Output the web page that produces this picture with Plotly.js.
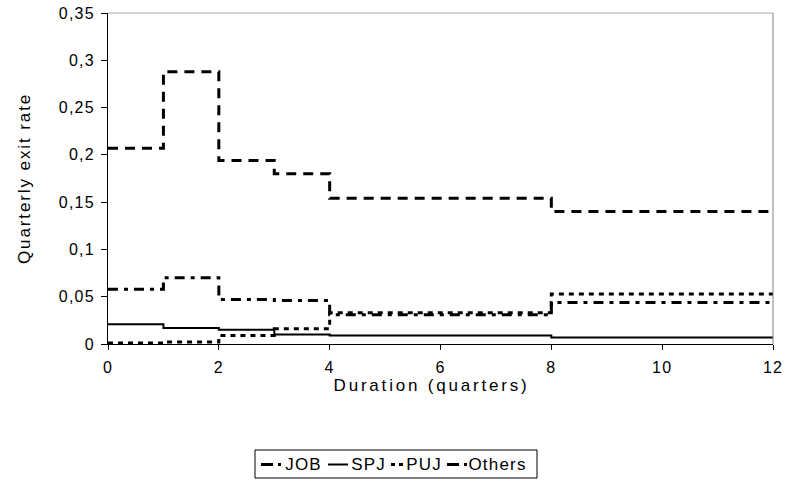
<!DOCTYPE html>
<html>
<head>
<meta charset="utf-8">
<script src="https://cdn.plot.ly/plotly-3.0.1.min.js"></script>
<style>
html,body{margin:0;padding:0;background:#fff;}
#chart{width:792px;height:481px;}
#chart text.xtitle{letter-spacing:2.8px;transform:translate(-9px,0px);}
#chart text.ytitle{letter-spacing:1.9px;}
#chart g.xtick text, #chart g.ytick text{letter-spacing:1.2px;}
#chart text.annotation-text{letter-spacing:1.2px;}
</style>
</head>
<body>
<div id="chart"></div>
<script>
// Duration break points (quarters); each value holds from its break point to the next
const duration = [0, 1, 2, 3, 4, 8, 12];
const jobRate    = [0.207, 0.288, 0.194, 0.180, 0.154, 0.140];
const spjRate    = [0.021, 0.017, 0.015, 0.010, 0.009, 0.007];
const pujRate    = [0.001, 0.002, 0.009, 0.016, 0.033, 0.053];
const othersRate = [0.058, 0.070, 0.047, 0.046, 0.031, 0.044];
const seriesNames = ['JOB', 'SPJ', 'PUJ', 'Others'];
const yTicks = [0, 0.05, 0.1, 0.15, 0.2, 0.25, 0.3, 0.35];
const xTicks = [0, 2, 4, 6, 8, 10, 12];

function stepY(vals) { return vals.concat([vals[vals.length - 1]]); }

const styles = [
  {width: 3, dash: '10px,7px',          legendDash: '12px,5px,4px,30px'},
  {width: 2, dash: 'solid',             legendDash: 'solid'},
  {width: 3, dash: '5px,5px',           legendDash: '4px,4px'},
  {width: 3, dash: '10px,6px,4px,6px',  legendDash: '12px,5px,4px,30px'}
];
const allRates = [jobRate, spjRate, pujRate, othersRate];

const traces = allRates.map((r, i) => ({
  x: duration,
  y: stepY(r),
  name: seriesNames[i],
  type: 'scatter',
  mode: 'lines',
  showlegend: false,
  line: {shape: 'hv', color: '#000', width: styles[i].width, dash: styles[i].dash}
}));

function F(s) { return {family: 'Liberation Sans, Arial, sans-serif', size: s, color: '#000'}; }

// plot-area geometry (pixels) used to place the hand-made legend box
const W = 792, H = 481, ML = 108, MR = 19, MT = 13, MB = 137;
const PW = W - ML - MR, PH = H - MT - MB;
const px = v => (v - ML) / PW;
const py = v => (H - MB - v) / PH;

// legend layout: [sample start, sample end, text start]
const legendSlots = [[261, 281, 286], [328, 348, 352], [391, 403, 407], [447, 467, 471]];
const legendTop = 450, legendBottom = 478, legendMid = 464.5;

const shapes = [
  {type: 'line', xref: 'paper', yref: 'paper', x0: 0, x1: 1, y0: 1, y1: 1, line: {color: '#a6a6a6', width: 1}},
  {type: 'line', xref: 'paper', yref: 'paper', x0: 1, x1: 1, y0: 0, y1: 1, line: {color: '#808080', width: 1}},
  {type: 'rect', xref: 'paper', yref: 'paper', x0: px(255), x1: px(537), y0: py(legendBottom), y1: py(legendTop),
   line: {color: '#000', width: 1}, fillcolor: '#fff', layer: 'above'}
];
const annotations = [];
seriesNames.forEach((n, i) => {
  const s = legendSlots[i];
  shapes.push({type: 'line', xref: 'paper', yref: 'paper', x0: px(s[0]), x1: px(s[1]), y0: py(legendMid), y1: py(legendMid),
    line: {color: '#000', width: styles[i].width, dash: styles[i].legendDash}, layer: 'above'});
  annotations.push({xref: 'paper', yref: 'paper', x: px(s[2]), y: py(legendMid), xanchor: 'left', yanchor: 'middle',
    text: n, showarrow: false, font: F(17), borderpad: 0});
});

const layout = {
  width: W, height: H,
  separators: ', ',
  margin: {l: ML, r: MR, t: MT, b: MB},
  paper_bgcolor: '#fff', plot_bgcolor: '#fff',
  font: F(16),
  showlegend: false,
  xaxis: {
    range: [0, 12], tickvals: xTicks, ticks: 'outside', ticklen: 5, tickcolor: '#000',
    showgrid: false, zeroline: false, showline: true, linecolor: '#000', linewidth: 1,
    title: {text: 'Duration (quarters)', font: F(17), standoff: 0},
    automargin: false, tickfont: F(16), ticklabelstandoff: 4
  },
  yaxis: {
    range: [0, 0.35], tickvals: yTicks, ticks: 'outside', ticklen: 6, tickcolor: '#000',
    showgrid: false, zeroline: false, showline: true, linecolor: '#000', linewidth: 1,
    title: {text: 'Quarterly exit rate', font: F(17), standoff: 28},
    automargin: false, tickfont: F(16), ticklabelstandoff: 3
  },
  shapes: shapes,
  annotations: annotations
};

Plotly.newPlot('chart', traces, layout, {displayModeBar: false, staticPlot: true});
</script>
</body>
</html>
